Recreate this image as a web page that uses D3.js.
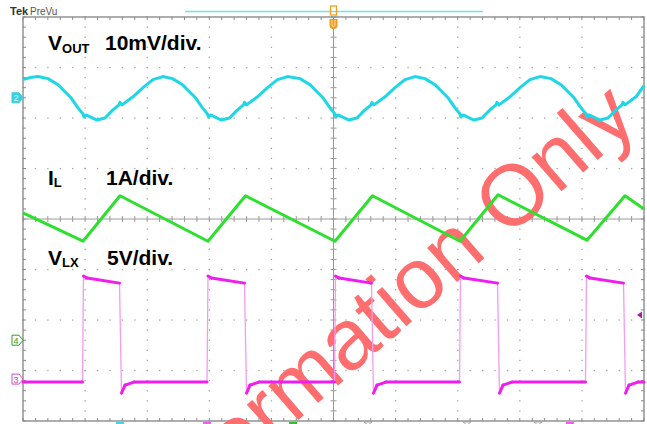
<!DOCTYPE html>
<html>
<head>
<meta charset="utf-8">
<script src="https://cdn.jsdelivr.net/npm/d3@7"></script>
<style>
  body { margin: 0; background: #fff; }
  svg { display: block; font-family: "Liberation Sans", Arial, sans-serif; }
</style>
</head>
<body>
<svg id="scope" width="647" height="424"></svg>
<script>
const voutT = [0, 0.113, 0.242,
  0.403, 0.564, 0.676, 0.773, 0.886, 0.966, 0.982, 1.014, 1.192, 1.320, 1.449, 1.546, 1.562, 1.594, 1.771, 1.932, 2.093, 2.254,
  2.407, 2.568, 2.681, 2.778, 2.890, 2.971, 2.987, 3.019, 3.196, 3.325, 3.454, 3.551, 3.567, 3.599, 3.776, 3.937, 4.098, 4.259,
  4.461, 4.622, 4.734, 4.831, 4.944, 5.024, 5.040, 5.072, 5.250, 5.378, 5.507, 5.604, 5.620, 5.652, 5.829, 5.990, 6.151, 6.312,
  6.473, 6.634, 6.747, 6.844, 6.957, 7.037, 7.053, 7.085, 7.262, 7.391, 7.520, 7.617, 7.633, 7.665, 7.842, 8.003, 8.164, 8.325,
  8.502, 8.663, 8.776, 8.873, 8.986, 9.066, 9.082, 9.114, 9.291, 9.420, 9.549, 9.646, 9.662, 9.694, 9.871, 10.0];
const voutMv = [3.6, 4.0, 4.2,
  3.8, 2.6, 1.2, 0.0, -2.0, -3.2, -3.8, -3.4, -4.4, -4.0, -2.4, -1.4, -0.9, -1.4, 0.2, 2.0, 3.6, 4.2,
  3.8, 2.6, 1.2, 0.0, -2.0, -3.2, -3.8, -3.4, -4.4, -4.0, -2.4, -1.4, -0.9, -1.4, 0.2, 2.0, 3.6, 4.2,
  3.8, 2.6, 1.2, 0.0, -2.0, -3.2, -3.8, -3.4, -4.4, -4.0, -2.4, -1.4, -0.9, -1.4, 0.2, 2.0, 3.6, 4.2,
  3.8, 2.6, 1.2, 0.0, -2.0, -3.2, -3.8, -3.4, -4.4, -4.0, -2.4, -1.4, -0.9, -1.4, 0.2, 2.0, 3.6, 4.2,
  3.8, 2.6, 1.2, 0.0, -2.0, -3.2, -3.8, -3.4, -4.4, -4.0, -2.4, -1.4, -0.9, -1.4, 0.2, 2.4];

const ilT = [0, 0.966, 1.562, 2.979, 3.583, 5.024, 5.628, 7.037, 7.649, 9.082, 9.694, 10.0];
const ilAmps = [0.12, -0.44, 0.46, -0.44, 0.46, -0.44, 0.46, -0.44, 0.48, -0.42, 0.46, 0.20];

const vlxT = [0, 0.958, 0.974, 1.031, 1.554, 1.586, 1.643, 1.787,
  2.963, 2.979, 3.035, 3.567, 3.599, 3.655, 3.800,
  5.016, 5.032, 5.089, 5.612, 5.644, 5.700, 5.845,
  7.029, 7.045, 7.101, 7.641, 7.673, 7.729, 7.874,
  9.058, 9.074, 9.130, 9.670, 9.702, 9.758, 9.903, 10.0];
const vlxVolts = [-0.3, -0.3, 10.2, 10.0, 9.5, -1.4, -0.6, -0.3,
  -0.3, 10.2, 10.0, 9.5, -1.4, -0.6, -0.3,
  -0.3, 10.2, 10.0, 9.5, -1.4, -0.6, -0.3,
  -0.3, 10.2, 10.0, 9.5, -1.4, -0.6, -0.3,
  -0.3, 10.2, 10.0, 9.5, -1.4, -0.6, -0.3, -0.3];

// channel scale (units per div) and reference level (div from centre)
const voutScale = 10, voutRef = 2.40;
const ilScale = 1, ilRef = 0;
const vlxScale = 5, vlxRef = -3.17;
const ch4Ref = -2.40;

const grat = { left: 23, right: 644, top: 17, bottom: 421 };
const x = d3.scaleLinear().domain([0, 10]).range([grat.left, grat.right]);
const y = d3.scaleLinear().domain([-4, 4]).range([grat.bottom, grat.top]);

const svg = d3.select("#scope");

// ---- graticule ----
const fineX = d3.range(0, 51).map(k => k * 0.2);
const fineY = d3.range(0, 41).map(k => -4 + k * 0.2);
const gridX = [1, 2, 3, 4, 6, 7, 8, 9];
const gridY = [-3, -2, -1, 1, 2, 3];

const grid = svg.append("g").attr("fill", "#a4a4a4");
gridX.forEach(i => {
    grid.selectAll(null).data(fineY).join("rect")
        .attr("x", x(i) - 0.6).attr("y", d => y(d) - 0.6)
        .attr("width", 1.3).attr("height", 1.3);
});
gridY.forEach(j => {
    grid.selectAll(null).data(fineX).join("rect")
        .attr("x", d => x(d) - 0.6).attr("y", y(j) - 0.6)
        .attr("width", 1.3).attr("height", 1.3);
});

const axes = svg.append("g").attr("stroke", "#9a9a9a").attr("stroke-width", 1);
axes.append("line").attr("x1", x(0)).attr("x2", x(10)).attr("y1", y(0)).attr("y2", y(0));
axes.append("line").attr("x1", x(5)).attr("x2", x(5)).attr("y1", y(-4)).attr("y2", y(4));
axes.selectAll(".tx").data(fineX).join("line")
    .attr("x1", d => x(d)).attr("x2", d => x(d))
    .attr("y1", y(0) - 3).attr("y2", y(0) + 3);
axes.selectAll(".ty").data(fineY).join("line")
    .attr("x1", x(5) - 3).attr("x2", x(5) + 3)
    .attr("y1", d => y(d)).attr("y2", d => y(d));

const border = svg.append("g").attr("stroke", "#8c8c8c");
border.append("rect")
    .attr("x", grat.left).attr("y", grat.top)
    .attr("width", grat.right - grat.left).attr("height", grat.bottom - grat.top)
    .attr("fill", "none").attr("stroke-width", 1.4);
border.selectAll(".bt").data(fineX).join("line")
    .attr("x1", d => x(d)).attr("x2", d => x(d))
    .attr("y1", grat.top).attr("y2", grat.top + 3);
border.selectAll(".bb").data(fineX).join("line")
    .attr("x1", d => x(d)).attr("x2", d => x(d))
    .attr("y1", grat.bottom).attr("y2", grat.bottom - 3);
border.selectAll(".bl").data(fineY).join("line")
    .attr("x1", grat.left).attr("x2", grat.left + 3)
    .attr("y1", d => y(d)).attr("y2", d => y(d));
border.selectAll(".br").data(fineY).join("line")
    .attr("x1", grat.right).attr("x2", grat.right - 3)
    .attr("y1", d => y(d)).attr("y2", d => y(d));

// ---- watermark ----
svg.append("text")
    .attr("transform", "translate(402,330) rotate(-41)")
    .attr("text-anchor", "middle")
    .attr("font-size", 86)
    .attr("fill", "#ff6e6e")
    .text("Information Only");

// ---- traces ----
const vout = voutT.map((t, i) => [t, voutRef + voutMv[i] / voutScale]);
const il = ilT.map((t, i) => [t, ilRef + ilAmps[i] / ilScale]);
const vlx = vlxT.map((t, i) => [t, vlxRef + vlxVolts[i] / vlxScale]);

const line = d3.line().x(d => x(d[0])).y(d => y(d[1]));

svg.append("path").attr("d", line(vout))
    .attr("fill", "none").attr("stroke", "#1fd6e6").attr("stroke-width", 3)
    .attr("stroke-linejoin", "round");

svg.append("path").attr("d", line(il))
    .attr("fill", "none").attr("stroke", "#2ee02e").attr("stroke-width", 3)
    .attr("stroke-linejoin", "round");

svg.append("path").attr("d", line(vlx))
    .attr("fill", "none").attr("stroke", "#f59af5").attr("stroke-width", 1.3);

const vlxFlat = d3.pairs(vlx).filter(([a, b]) => Math.abs(b[1] - a[1]) < 1);
svg.append("g").selectAll("line").data(vlxFlat).join("line")
    .attr("x1", d => x(d[0][0])).attr("y1", d => y(d[0][1]))
    .attr("x2", d => x(d[1][0])).attr("y2", d => y(d[1][1]))
    .attr("stroke", "#f01cf0").attr("stroke-width", 3)
    .attr("stroke-linecap", "round");

// ---- labels ----
const labels = svg.append("g").attr("font-weight", "bold").attr("fill", "#000");
const l1 = labels.append("text").attr("x", 48).attr("y", 50).attr("font-size", 21);
l1.append("tspan").text("V");
l1.append("tspan").attr("font-size", 13).attr("dy", 3).text("OUT");
labels.append("text").attr("x", 105).attr("y", 50).attr("font-size", 21).text("10mV/div.");

const l2 = labels.append("text").attr("x", 48).attr("y", 185).attr("font-size", 21);
l2.append("tspan").text("I");
l2.append("tspan").attr("font-size", 13).attr("dy", 2).text("L");
labels.append("text").attr("x", 106).attr("y", 185).attr("font-size", 21).text("1A/div.");

const l3 = labels.append("text").attr("x", 48).attr("y", 265).attr("font-size", 21);
l3.append("tspan").text("V");
l3.append("tspan").attr("font-size", 13).attr("dy", 2).text("LX");
labels.append("text").attr("x", 107).attr("y", 265).attr("font-size", 21).text("5V/div.");

// ---- scope chrome ----
svg.append("text").attr("x", 10).attr("y", 15).attr("font-size", 11)
    .attr("font-weight", "bold").attr("fill", "#333").text("Tek");
svg.append("text").attr("x", 30).attr("y", 15).attr("font-size", 10)
    .attr("fill", "#555").text("PreVu");
svg.append("line").attr("x1", 185).attr("x2", 483).attr("y1", 11.5).attr("y2", 11.5)
    .attr("stroke", "#6fe3f0").attr("stroke-width", 1.3);

const trig = svg.append("g").attr("transform", `translate(${x(5)},0)`);
trig.append("rect").attr("x", -3).attr("y", 6).attr("width", 6).attr("height", 9)
    .attr("fill", "none").attr("stroke", "#f0a020").attr("stroke-width", 1.3);
trig.append("path").attr("d", "M-4,19 h8 v6 a4,4 0 0 1 -8,0 z").attr("fill", "#f29b18");
trig.append("path").attr("d", "M-1.5,20 v5 a1.5,1.5 0 0 0 3,0 v-5")
    .attr("fill", "none").attr("stroke", "#fde2b0").attr("stroke-width", 1);

const marker = (ref, label, stroke, fill, textFill) => {
    const g = svg.append("g").attr("transform", `translate(12,${y(ref)})`);
    g.append("path").attr("d", "M0,-5 h7 l4,5 l-4,5 h-7 z")
        .attr("fill", fill).attr("stroke", stroke).attr("stroke-width", 1);
    g.append("text").attr("x", 4).attr("y", 3.5).attr("font-size", 9)
        .attr("text-anchor", "middle").attr("fill", textFill).text(label);
};
marker(voutRef, "2", "#38cfe0", "#38cfe0", "#d8fbff");
marker(ch4Ref, "4", "#2aa02a", "#fff", "#2aa02a");
marker(vlxRef, "3", "#d050d0", "#fff", "#c040c0");

svg.append("path").attr("d", `M${grat.right - 7},${y(-1.90)} l5,-3.5 v7 z`).attr("fill", "#a020a0");

const bottomMarks = [[120, "#40d8e8"], [207, "#f060f0"], [293, "#30c030"], [570, "#f060f0"]];
svg.append("g").selectAll("rect").data(bottomMarks).join("rect")
    .attr("x", d => d[0] - 4).attr("y", grat.bottom + 1).attr("width", 8).attr("height", 3)
    .attr("fill", d => d[1]);
svg.append("g").selectAll("path").data([368, 467, 538]).join("path")
    .attr("d", d => `M${d - 4},${grat.bottom + 1} h8 l-4,3 z`)
    .attr("fill", "#fff").attr("stroke", "#999").attr("stroke-width", 0.8);
</script>
</body>
</html>
